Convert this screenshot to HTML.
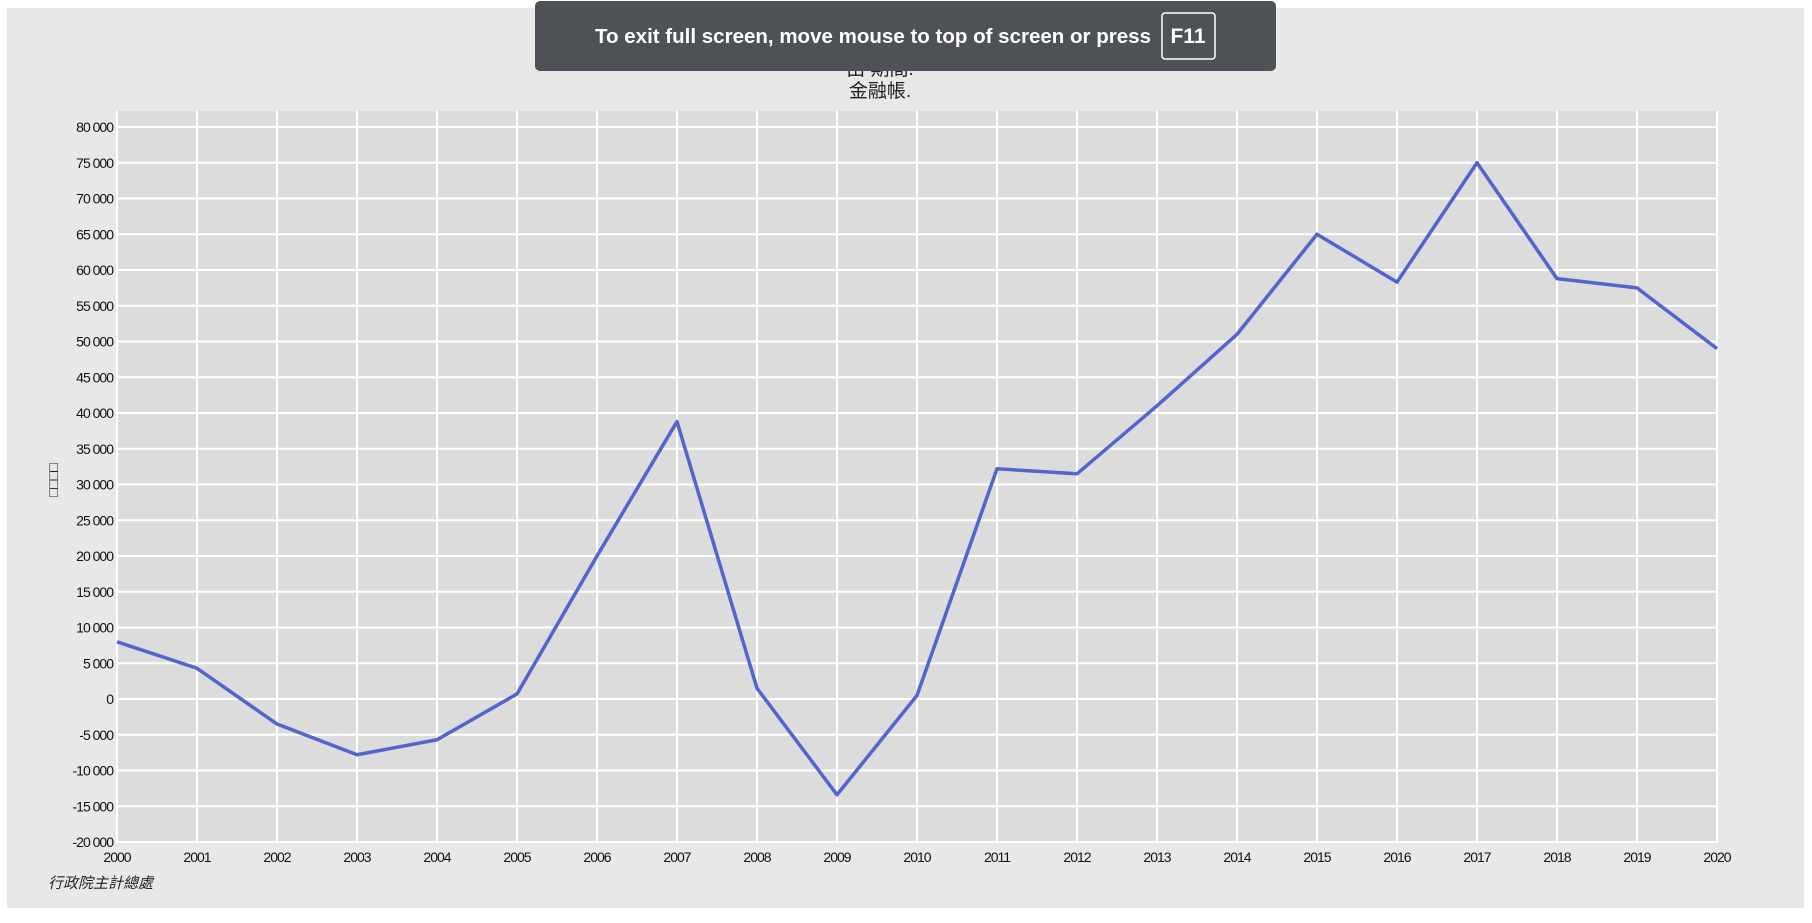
<!DOCTYPE html>
<html><head><meta charset="utf-8"><style>
body{margin:0;width:1812px;height:918px;background:#fff;overflow:hidden;font-family:"Liberation Sans","Noto Sans CJK TC",sans-serif}
</style></head><body>
<svg width="1812" height="918" xmlns="http://www.w3.org/2000/svg">
<rect x="7" y="8" width="1797" height="900" fill="#e8e8e8"/>
<rect x="117" y="111" width="1600" height="732" fill="#dcdcdc"/>
<g id="grid"></g><g id="yt"></g><g id="xt"></g>
<polyline id="line" fill="none" stroke="#5364cf" stroke-width="3.5" stroke-linejoin="round"/>
<g font-size="19" fill="#222" text-anchor="middle">
<text x="880" y="54">國際收支簡表-年</text><text x="880" y="75">由 期間.</text><text x="880" y="97">金融帳.</text></g>
<text transform="translate(58,480) rotate(-90)" font-size="14" text-anchor="middle" fill="#222">□□□□</text>
<text x="48" y="888" font-size="15" font-style="italic" fill="#222">行政院主計總處</text>
<g>
<rect x="535" y="1" width="741" height="70" rx="5" fill="#4e5155"/>
<text x="595" y="43" font-size="20" font-weight="bold" fill="#fff" textLength="556" lengthAdjust="spacingAndGlyphs">To exit full screen, move mouse to top of screen or press</text>
<rect x="1162" y="13" width="53" height="46" rx="3" fill="none" stroke="#fff" stroke-width="1.5"/>
<text x="1188" y="43" font-size="21" font-weight="bold" fill="#fff" text-anchor="middle">F11</text></g>
</svg>
<script>
const years=[2000,2001,2002,2003,2004,2005,2006,2007,2008,2009,2010,2011,2012,2013,2014,2015,2016,2017,2018,2019,2020];
const values=[8000,4300,-3500,-7800,-5700,700,20000,38800,1500,-13400,500,32200,31500,41000,51000,65000,58300,75000,58800,57500,49000];
const yTicks=[-20000,-15000,-10000,-5000,0,5000,10000,15000,20000,25000,30000,35000,40000,45000,50000,55000,60000,65000,70000,75000,80000];
const X=y=>117+(y-2000)*80, Y=v=>842-(v+20000)*715/100000;
const NS="http://www.w3.org/2000/svg";
function mk(t,a,p,txt){const e=document.createElementNS(NS,t);for(const k in a)e.setAttribute(k,a[k]);if(txt!=null)e.textContent=txt;p.appendChild(e);return e;}
const g=document.getElementById('grid'),yt=document.getElementById('yt'),xt=document.getElementById('xt');
yTicks.forEach(v=>{const l=mk('line',{x1:117,x2:1717,y1:Y(v),y2:Y(v),stroke:'#fff','stroke-width':2},g);


const t=mk('text',{x:113,y:Y(v)+5,'font-size':14,'text-anchor':'end',fill:'#111','letter-spacing':'-1'},yt,v.toLocaleString('en-US').replace(/,/g,' '));

});
years.forEach(y=>{const l=mk('line',{x1:X(y),x2:X(y),y1:111,y2:843,stroke:'#fff','stroke-width':2},g);


const t=mk('text',{x:X(y),y:862,'font-size':14,'text-anchor':'middle',fill:'#111','letter-spacing':'-1'},xt,String(y));

});
document.getElementById('line').setAttribute('points',years.map((y,i)=>X(y)+','+Y(values[i])).join(' '));
</script>
</body></html>
